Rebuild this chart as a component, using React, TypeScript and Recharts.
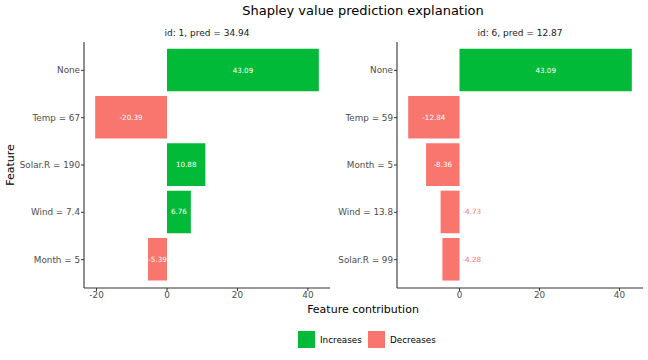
import React from 'react';
import { BarChart, Bar, XAxis, YAxis, Cell, LabelList } from 'recharts';

const features1 = ['None', 'Temp = 67', 'Solar.R = 190', 'Wind = 7.4', 'Month = 5'];
const phi1 = [43.09, -20.39, 10.88, 6.76, -5.39];
const ticks1 = [-20, 0, 20, 40];

const features2 = ['None', 'Temp = 59', 'Month = 5', 'Wind = 13.8', 'Solar.R = 99'];
const phi2 = [43.09, -12.84, -8.36, -4.73, -4.28];
const ticks2 = [0, 20, 40];

const GREEN = '#00BA38';
const RED = '#F8766D';
const FONT = '"DejaVu Sans", sans-serif';

function expand(values: number[]): [number, number] {
  const lo = Math.min(0, ...values);
  const hi = Math.max(0, ...values);
  const pad = (hi - lo) * 0.05;
  return [lo - pad, hi + pad];
}

function makeLabel(maxAbs: number) {
  return (props: any) => {
    const x = Number(props.x);
    const y = Number(props.y);
    const width = Number(props.width);
    const height = Number(props.height);
    const value = Number(props.value);
    const cy = y + height / 2;
    if (Math.abs(value) > maxAbs / 8) {
      return (
        <text x={x + width / 2} y={cy} textAnchor="middle" dominantBaseline="central"
          fill="#FFFFFF" fontSize={7.2} fontFamily={FONT}>
          {value.toFixed(2)}
        </text>
      );
    }
    const right = Math.max(x, x + width);
    return (
      <text x={right + 3} y={cy} textAnchor="start" dominantBaseline="central"
        fill={value < 0 ? RED : GREEN} fontSize={7.2} fontFamily={FONT}>
        {value.toFixed(2)}
      </text>
    );
  };
}

const YTick = (props: any) => (
  <text x={props.x} y={props.y} dy="0.355em" textAnchor="end" fontSize={8.8} fill="#4D4D4D" fontFamily={FONT}>
    {props.payload.value}
  </text>
);

const XTick = (props: any) => (
  <text x={props.x} y={props.y} dy="0.71em" textAnchor="middle" fontSize={8.8} fill="#4D4D4D" fontFamily={FONT}>
    {props.payload.value}
  </text>
);

interface PanelProps {
  features: string[];
  phi: number[];
  ticks: number[];
  left: number;
  width: number;
  yAxisWidth: number;
}

function Panel({ features, phi, ticks, left, width, yAxisWidth }: PanelProps) {
  const data = features.map((f, i) => ({ feature: f, phi: phi[i] }));
  const maxAbs = Math.max(...phi.map((v) => Math.abs(v)));
  return (
    <div style={{ position: 'absolute', left, top: 0 }}>
      <BarChart
        layout="vertical"
        width={width}
        height={300}
        data={data}
        margin={{ top: 42, right: 2, bottom: 0, left: 0 }}
        barSize={42.6}
      >
        <XAxis
          type="number"
          domain={expand(phi)}
          ticks={ticks}
          height={12}
          tick={<XTick />}
          tickSize={3}
          tickMargin={1}
          axisLine={{ stroke: '#333333', strokeWidth: 1.1 }}
          tickLine={{ stroke: '#333333' }}
        />
        <YAxis
          type="category"
          dataKey="feature"
          width={yAxisWidth}
          interval={0}
          padding={{ top: 4.7, bottom: 4.7 }}
          tick={<YTick />}
          tickSize={3}
          tickMargin={1}
          axisLine={{ stroke: '#333333', strokeWidth: 1.1 }}
          tickLine={{ stroke: '#333333' }}
        />
        <Bar dataKey="phi" isAnimationActive={false}>
          {data.map((d, i) => (
            <Cell key={i} fill={d.phi >= 0 ? GREEN : RED} />
          ))}
          <LabelList dataKey="phi" content={makeLabel(maxAbs)} />
        </Bar>
      </BarChart>
    </div>
  );
}

export default function App() {
  return (
    <div style={{ position: 'absolute', left: 0, top: 0, width: 648, height: 360, background: '#FFFFFF', fontFamily: FONT }}>
      <svg width={648} height={360} style={{ position: 'absolute', left: 0, top: 0 }}>
        <text x={363} y={15} textAnchor="middle" fontSize={13} fill="#000">
          Shapley value prediction explanation
        </text>
        <text x={207} y={36} textAnchor="middle" fontSize={9} fill="#1A1A1A">
          id: 1, pred = 34.94
        </text>
        <text x={520} y={36} textAnchor="middle" fontSize={9} fill="#1A1A1A">
          id: 6, pred = 12.87
        </text>
        <text x={363} y={313} textAnchor="middle" fontSize={11} fill="#000">
          Feature contribution
        </text>
        <text x={14} y={165} textAnchor="middle" fontSize={11} fill="#000" transform="rotate(-90 14 165)">
          Feature
        </text>
        <rect x={298} y={331} width={17} height={17} fill={GREEN} />
        <text x={320} y={343} fontSize={8.8} fill="#000">Increases</text>
        <rect x={368} y={331} width={17} height={17} fill={RED} />
        <text x={390} y={343} fontSize={8.8} fill="#000">Decreases</text>
      </svg>
      <Panel features={features1} phi={phi1} ticks={ticks1} left={0} width={332} yAxisWidth={84} />
      <Panel features={features2} phi={phi2} ticks={ticks2} left={330} width={315} yAxisWidth={67} />
    </div>
  );
}
